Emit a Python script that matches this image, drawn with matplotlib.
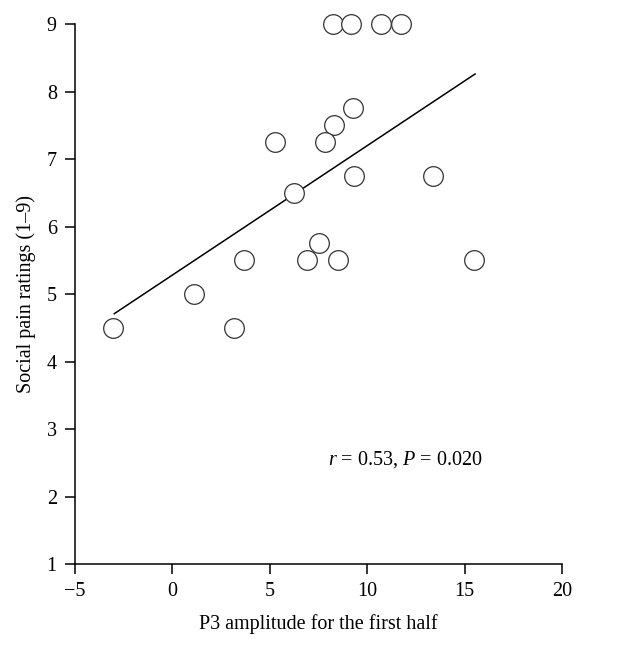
import matplotlib
matplotlib.use("Agg")
import matplotlib.pyplot as plt

# values
p3_amplitude = [8.27, 9.16, 10.70, 11.73, 9.29, 8.30, 7.86, 5.27, 9.33, 13.37,
                6.27, 7.55, 3.68, 6.93, 8.51, 15.49, 1.11, -3.06, 3.17]
pain_rating = [9.0, 9.0, 9.0, 9.0, 7.75, 7.5, 7.25, 7.25, 6.75, 6.75,
               6.5, 5.75, 5.5, 5.5, 5.5, 5.5, 5.0, 4.5, 4.5]

# regression line end points
fit_x = [-2.98, 15.54]
fit_y = [4.71, 8.26]

x_ticks = [-5, 0, 5, 10, 15, 20]
y_ticks = [1, 2, 3, 4, 5, 6, 7, 8, 9]

plt.rcParams['font.family'] = ['Liberation Serif', 'DejaVu Serif']
plt.rcParams['mathtext.fontset'] = 'custom'
plt.rcParams['mathtext.it'] = 'Liberation Serif:italic'
plt.rcParams['mathtext.rm'] = 'Liberation Serif'

fig = plt.figure(figsize=(6.4, 6.5), dpi=100)
ax = fig.add_axes([0.117, 0.132, 0.761, 0.831])

ax.plot(fit_x, fit_y, color='black', linewidth=1.1, zorder=2)
ax.scatter(p3_amplitude, pain_rating, s=200, facecolors='white',
           edgecolors='#333333', linewidths=0.9, zorder=3, clip_on=False)

ax.set_xlim(-5, 20)
ax.set_ylim(1, 9)
ax.set_xticks(x_ticks)
ax.set_yticks(y_ticks)
ax.set_xticklabels(['\u22125', '0', '5', '10', '15', '20'])

for side in ['top', 'right']:
    ax.spines[side].set_visible(False)
for side in ['left', 'bottom']:
    ax.spines[side].set_linewidth(1.1)
ax.tick_params(direction='out', length=7, width=1.1, labelsize=14.5, pad=6)

ax.set_xlabel('P3 amplitude for the first half', fontsize=14.5, labelpad=9)
ax.set_ylabel('Social pain ratings (1\u20139)', fontsize=14.5, labelpad=8)

ax.text(8.0, 2.55, '$r$ = 0.53, $P$ = 0.020', fontsize=14.5, ha='left', va='center')

fig.savefig('out.png', dpi=100)
